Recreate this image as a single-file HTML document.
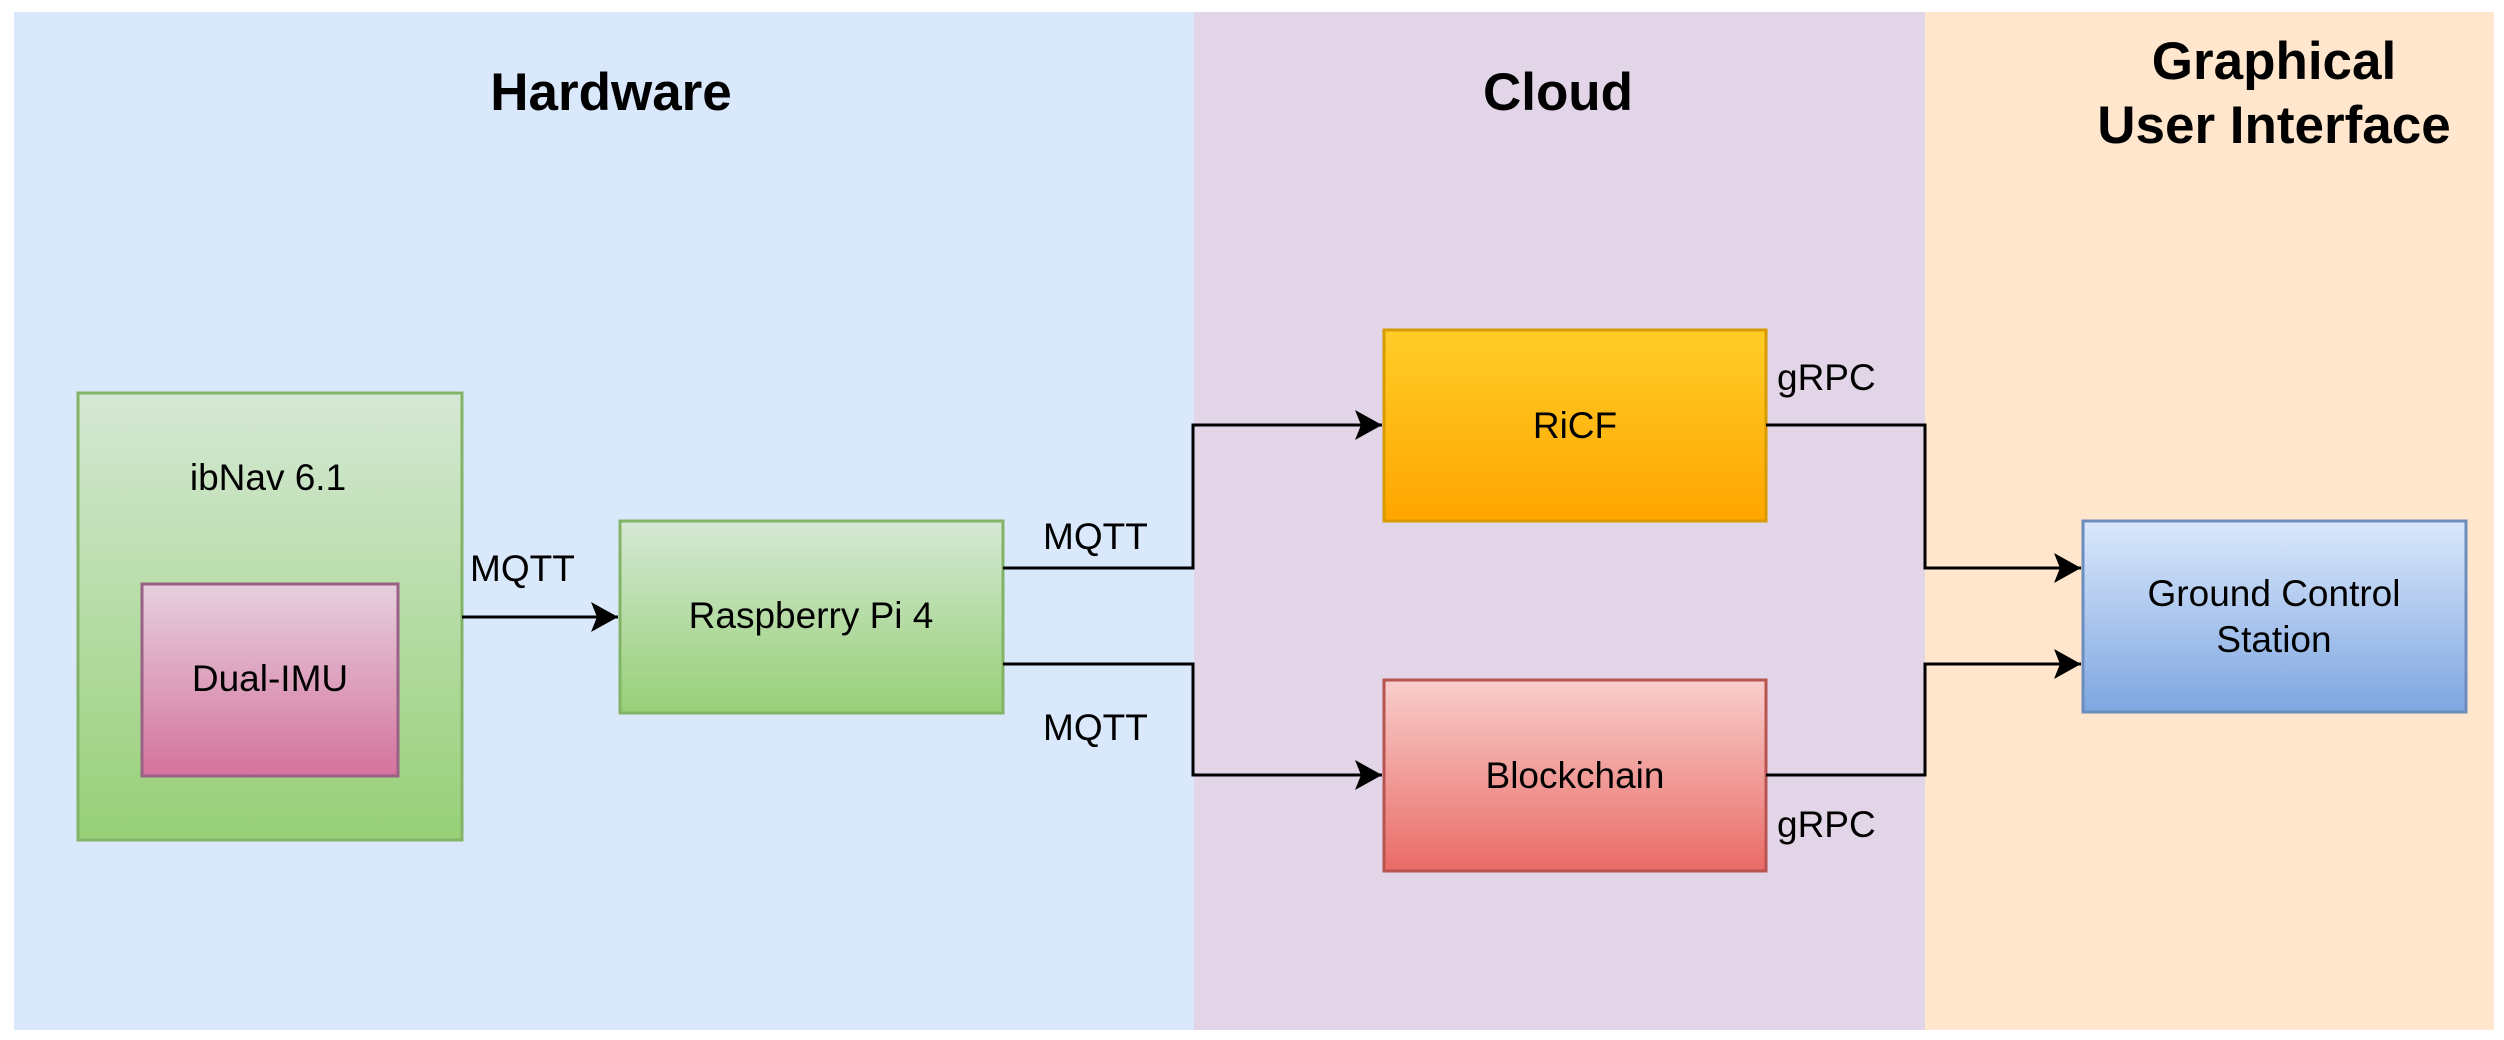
<!DOCTYPE html>
<html><head><meta charset="utf-8"><style>
html,body{margin:0;padding:0;background:#fff;}
svg{display:block;}
text{font-family:"Liberation Sans",Arial,sans-serif;fill:#000;}
</style></head><body>
<svg width="2504" height="1040" viewBox="0 0 2504 1040" xmlns="http://www.w3.org/2000/svg">
<defs>
<linearGradient id="g" x1="0" y1="0" x2="0" y2="1"><stop offset="0" stop-color="#d5e8d4"/><stop offset="1" stop-color="#97d077"/></linearGradient>
<linearGradient id="p" x1="0" y1="0" x2="0" y2="1"><stop offset="0" stop-color="#e6d0de"/><stop offset="1" stop-color="#d5739d"/></linearGradient>
<linearGradient id="o" x1="0" y1="0" x2="0" y2="1"><stop offset="0" stop-color="#ffcd28"/><stop offset="1" stop-color="#ffa500"/></linearGradient>
<linearGradient id="r" x1="0" y1="0" x2="0" y2="1"><stop offset="0" stop-color="#f8cecc"/><stop offset="1" stop-color="#ea6b66"/></linearGradient>
<linearGradient id="b" x1="0" y1="0" x2="0" y2="1"><stop offset="0" stop-color="#dae8fc"/><stop offset="1" stop-color="#7ea6e0"/></linearGradient>
<marker id="a" markerWidth="28" markerHeight="30" refX="27" refY="15" orient="auto" markerUnits="userSpaceOnUse">
<path d="M0,0 L27,15 L0,30 L6,15 Z" fill="#000"/></marker>
</defs>
<rect x="14" y="12" width="1180" height="1018" fill="#dae8fc"/>
<rect x="1194" y="12" width="731" height="1018" fill="#e1d5e7"/>
<rect x="1925" y="12" width="569" height="1018" fill="#ffe6cc"/>
<g font-weight="bold" font-size="53" text-anchor="middle">
<text x="611" y="110">Hardware</text>
<text x="1558" y="110">Cloud</text>
<text x="2274" y="79">Graphical</text>
<text x="2274" y="143">User Interface</text>
</g>
<rect x="78" y="393" width="384" height="447" fill="url(#g)" stroke="#82b366" stroke-width="3"/>
<rect x="142" y="584" width="256" height="192" fill="url(#p)" stroke="#996185" stroke-width="3"/>
<rect x="620" y="521" width="383" height="192" fill="url(#g)" stroke="#82b366" stroke-width="3"/>
<rect x="1384" y="330" width="382" height="191" fill="url(#o)" stroke="#d79b00" stroke-width="3"/>
<rect x="1384" y="680" width="382" height="191" fill="url(#r)" stroke="#b85450" stroke-width="3"/>
<rect x="2083" y="521" width="383" height="191" fill="url(#b)" stroke="#6c8ebf" stroke-width="3"/>
<g fill="none" stroke="#000" stroke-width="3">
<path d="M462,617 H618" marker-end="url(#a)"/>
<path d="M1003,568 H1193 V425 H1382" marker-end="url(#a)"/>
<path d="M1003,664 H1193 V775 H1382" marker-end="url(#a)"/>
<path d="M1766,425 H1925 V568 H2081" marker-end="url(#a)"/>
<path d="M1766,775 H1925 V664 H2081" marker-end="url(#a)"/>
</g>
<g font-size="37" text-anchor="middle">
<text x="268" y="490">ibNav 6.1</text>
<text x="270" y="691">Dual-IMU</text>
<text x="811" y="628">Raspberry Pi 4</text>
<text x="1575" y="438">RiCF</text>
<text x="1575" y="788">Blockchain</text>
<text x="2274" y="606">Ground Control</text>
<text x="2274" y="652">Station</text>
</g>
<g font-size="37">
<text x="470" y="581">MQTT</text>
<text x="1043" y="549">MQTT</text>
<text x="1043" y="740">MQTT</text>
<text x="1777" y="390">gRPC</text>
<text x="1777" y="837">gRPC</text>
</g>
</svg>
</body></html>
